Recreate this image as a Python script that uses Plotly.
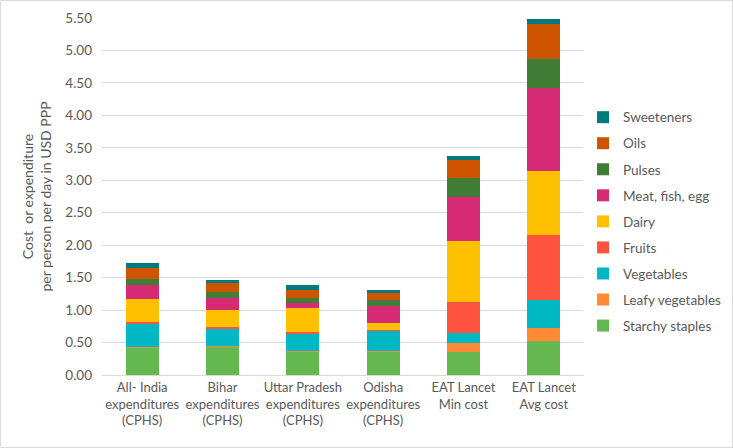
import plotly.graph_objects as go

categories = [
    "All- India<br>expenditures<br>(CPHS)",
    "Bihar<br>expenditures<br>(CPHS)",
    "Uttar Pradesh<br>expenditures<br>(CPHS)",
    "Odisha<br>expenditures<br>(CPHS)",
    "EAT Lancet<br>Min cost<br> ",
    "EAT Lancet<br>Avg cost<br> ",
]

starchy_staples = [0.42, 0.44, 0.36, 0.36, 0.36, 0.52]
leafy_vegetables = [0.01, 0.01, 0.01, 0.01, 0.14, 0.20]
vegetables = [0.35, 0.26, 0.27, 0.31, 0.15, 0.43]
fruits = [0.04, 0.03, 0.03, 0.01, 0.47, 1.01]
dairy = [0.35, 0.26, 0.36, 0.11, 0.94, 0.99]
meat_fish_egg = [0.21, 0.18, 0.08, 0.27, 0.68, 1.27]
pulses = [0.10, 0.10, 0.07, 0.09, 0.30, 0.45]
oils = [0.17, 0.13, 0.13, 0.10, 0.27, 0.54]
sweeteners = [0.08, 0.06, 0.08, 0.05, 0.07, 0.08]

series = [
    ("Starchy staples", starchy_staples, "#65B84F"),
    ("Leafy vegetables", leafy_vegetables, "#FF8A33"),
    ("Vegetables", vegetables, "#00B8C4"),
    ("Fruits", fruits, "#FF533F"),
    ("Dairy", dairy, "#FFC000"),
    ("Meat, fish, egg", meat_fish_egg, "#D62A74"),
    ("Pulses", pulses, "#3F7C34"),
    ("Oils", oils, "#CF5400"),
    ("Sweeteners", sweeteners, "#007A7A"),
]

fig = go.Figure()
for i, (name, vals, col) in enumerate(series):
    fig.add_trace(go.Bar(
        x=categories, y=vals, name=name, legendgroup=name,
        legendrank=1000 - i,
        marker=dict(color=col, line=dict(width=0)),
        width=0.41,
    ))

font_family = "Lato, 'Open Sans', sans-serif"
txt = "#595959"

L, R, T, B = 102, 149, 18, 73
W, H = 733, 448
pw, ph = W - L - R, H - T - B

fig.update_layout(
    width=W, height=H,
    barmode="stack",
    plot_bgcolor="white", paper_bgcolor="white",
    margin=dict(l=L, r=R, t=T, b=B, autoexpand=False),
    font=dict(family=font_family, size=13, color=txt),
    showlegend=True,
    legend=dict(
        traceorder="grouped",
        x=0.998, xanchor="left", y=0.765, yanchor="top",
        tracegroupgap=5.5,
        font=dict(size=13.5, color=txt),
        itemwidth=30,
    ),
    yaxis=dict(
        range=[0, 5.5], dtick=0.5, tickformat=".2f",
        showgrid=True, gridcolor="#D9D9D9", gridwidth=1,
        zeroline=False, showline=False, automargin=False,
        ticks="", ticklen=0, ticklabelstandoff=9,
        tickfont=dict(size=13.5, color=txt),
        title=dict(text="Cost  or expenditure<br>per person per day in USD PPP",
                   font=dict(size=14, color=txt), standoff=10),
    ),
    xaxis=dict(
        showline=True, linecolor="#D9D9D9", linewidth=1, automargin=False,
        ticks="", tickfont=dict(size=13, color=txt),
        tickangle=0,
    ),
)

fig.add_shape(type="rect", xref="paper", yref="paper",
              x0=(-L + 0.5) / pw, x1=(pw + R - 0.5) / pw,
              y0=(-B + 0.5) / ph, y1=(ph + T - 0.5) / ph,
              line=dict(color="#D9D9D9", width=1), layer="below")

fig.write_html("out.html", config={"displayModeBar": False},
               post_script="document.body.style.margin='0';document.body.style.overflow='hidden';")
